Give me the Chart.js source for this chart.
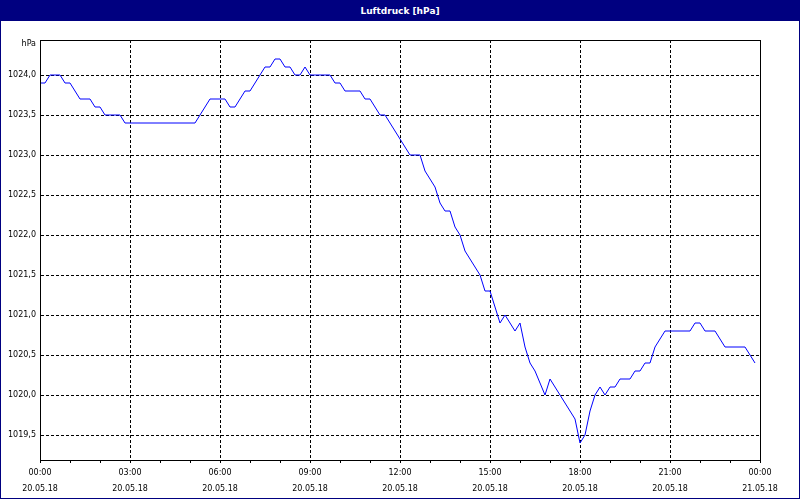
<!DOCTYPE html>
<html>
<head>
<meta charset="utf-8">
<script src="https://cdn.jsdelivr.net/npm/chart.js@4"></script>
<style>
  body { margin: 0; background: #fff; }
  #frame {
    position: relative;
    width: 800px; height: 499px;
    box-sizing: border-box;
    border: 1px solid #000080;
    background: #fff;
  }
  #titlebar {
    height: 20px;
    background: #000080;
    color: #fff;
    font: bold 9px "DejaVu Sans", sans-serif;
    line-height: 20px;
    text-align: center;
  }
  #chart { display: block; }
</style>
</head>
<body>
<div id="frame">
  <div id="titlebar">Luftdruck [hPa]</div>
  <canvas id="chart" width="798" height="477"></canvas>
</div>
<script>
// Luftdruck 20.05.18, one value every 10 minutes (00:00 .. 23:50)
var pressure = [
  1023.9, 1023.9, 1024.0, 1024.0, 1024.0, 1023.9, 1023.9, 1023.8, 1023.7, 1023.7,
  1023.7, 1023.6, 1023.6, 1023.5, 1023.5, 1023.5, 1023.5, 1023.4, 1023.4, 1023.4,
  1023.4, 1023.4, 1023.4, 1023.4, 1023.4, 1023.4, 1023.4, 1023.4, 1023.4, 1023.4,
  1023.4, 1023.4, 1023.5, 1023.6, 1023.7, 1023.7, 1023.7, 1023.7, 1023.6, 1023.6,
  1023.7, 1023.8, 1023.8, 1023.9, 1024.0, 1024.1, 1024.1, 1024.2, 1024.2, 1024.1,
  1024.1, 1024.0, 1024.0, 1024.1, 1024.0, 1024.0, 1024.0, 1024.0, 1024.0, 1023.9,
  1023.9, 1023.8, 1023.8, 1023.8, 1023.8, 1023.7, 1023.7, 1023.6, 1023.5, 1023.5,
  1023.4, 1023.3, 1023.2, 1023.1, 1023.0, 1023.0, 1023.0, 1022.8, 1022.7, 1022.6,
  1022.4, 1022.3, 1022.3, 1022.1, 1022.0, 1021.8, 1021.7, 1021.6, 1021.5, 1021.3,
  1021.3, 1021.1, 1020.9, 1021.0, 1020.9, 1020.8, 1020.9, 1020.6, 1020.4, 1020.3,
  1020.15, 1020.0, 1020.2, 1020.1, 1020.0, 1019.9, 1019.8, 1019.7, 1019.4, 1019.5,
  1019.8, 1020.0, 1020.1, 1020.0, 1020.1, 1020.1, 1020.2, 1020.2, 1020.2, 1020.3,
  1020.3, 1020.4, 1020.4, 1020.6, 1020.7, 1020.8, 1020.8, 1020.8, 1020.8, 1020.8,
  1020.8, 1020.9, 1020.9, 1020.8, 1020.8, 1020.8, 1020.7, 1020.6, 1020.6, 1020.6,
  1020.6, 1020.6, 1020.5, 1020.4
];

// tick labels on the time axis (every 3 hours)
var xTickTimes = ["00:00", "03:00", "06:00", "09:00", "12:00", "15:00", "18:00", "21:00", "00:00"];
var xTickDates = ["20.05.18", "20.05.18", "20.05.18", "20.05.18", "20.05.18", "20.05.18", "20.05.18", "20.05.18", "21.05.18"];

// pressure ticks
var yTicks = [1019.5, 1020.0, 1020.5, 1021.0, 1021.5, 1022.0, 1022.5, 1023.0, 1023.5, 1024.0];
var yMin = 1019.1875;
var yMax = 1024.4375;

// categories: 10 minute slots, 00:00 of the 20th up to 00:00 of the 21st
var slots = [];
for (var i = 0; i <= 24 * 6; i++) {
  var h = Math.floor(i / 6) % 24, m = (i % 6) * 10;
  slots.push((h < 10 ? "0" : "") + h + ":" + (m < 10 ? "0" : "") + m);
}

var FONT = "'DejaVu Sans', sans-serif";

// top / right side of the plot frame and the unit label
var framePlugin = {
  id: "frame",
  afterDraw: function (chart) {
    var a = chart.chartArea, ctx = chart.ctx;
    ctx.save();
    ctx.strokeStyle = "#000";
    ctx.lineWidth = 1;
    ctx.setLineDash([]);
    ctx.strokeRect(Math.round(a.left) + 0.5, Math.round(a.top) + 0.5,
      Math.round(a.right - a.left), Math.round(a.bottom - a.top));
    ctx.fillStyle = "#000";
    ctx.font = "8px " + FONT;
    ctx.textAlign = "right";
    ctx.textBaseline = "middle";
    ctx.fillText("hPa", a.left - 4, a.top + 4);
    ctx.restore();
  }
};

Chart.defaults.font.family = FONT;
Chart.defaults.font.size = 8;
Chart.defaults.color = "#000";

var chart = new Chart(document.getElementById("chart"), {
  type: "line",
  data: {
    labels: slots,
    datasets: [{
      data: pressure,
      borderColor: "#0000ff",
      borderWidth: 1,
      pointRadius: 0,
      tension: 0,
      fill: false
    }]
  },
  options: {
    responsive: false,
    animation: false,
    events: [],
    layout: { padding: { top: 19, right: 39, left: 0, bottom: 0 } },
    plugins: {
      legend: { display: false },
      tooltip: { enabled: false }
    },
    scales: {
      x: {
        type: "category",
        offset: false,
        afterFit: function (scale) { scale.height = 38; },
        afterBuildTicks: function (scale) {
          // one tick mark every hour
          scale.ticks = scale.ticks.filter(function (t) { return t.value % 6 === 0; });
        },
        grid: {
          color: function (ctx) {
            return ctx.tick && ctx.tick.value % 18 === 0 ? "#000" : "rgba(0,0,0,0)";
          },
          tickColor: "#000",
          tickLength: 3,
          drawTicks: true
        },
        border: { display: true, color: "#000", width: 1, dash: [3, 2] },
        ticks: {
          autoSkip: false,
          maxRotation: 0,
          padding: 2,
          font: { size: 8, lineHeight: 2 },
          callback: function (value) {
            if (value % 18 !== 0) return "";
            var k = value / 18;
            return [xTickTimes[k], xTickDates[k]];
          }
        }
      },
      y: {
        min: yMin,
        max: yMax,
        afterFit: function (scale) { scale.width = 39; },
        afterBuildTicks: function (scale) {
          scale.ticks = yTicks.map(function (v) { return { value: v }; });
        },
        grid: { color: "#000", drawTicks: false },
        border: { display: true, color: "#000", width: 1, dash: [3, 2] },
        ticks: {
          padding: 4,
          font: { size: 8 },
          callback: function (v) { return v.toFixed(1).replace(".", ","); }
        }
      }
    }
  },
  plugins: [framePlugin]
});
</script>
</body>
</html>
